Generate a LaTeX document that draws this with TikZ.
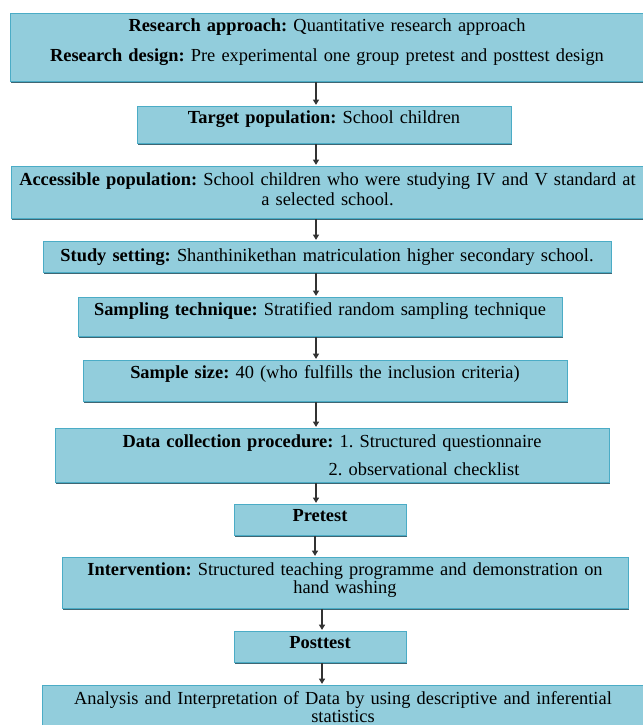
\documentclass[tikz,border=0pt]{standalone}
\usepackage{fontspec}
\setmainfont{Liberation Serif}
\usepackage{tikz}
\usetikzlibrary{arrows.meta, shadows}
\definecolor{boxfill}{HTML}{92CDDC}
\definecolor{boxline}{HTML}{4BACC6}
\definecolor{boxshade}{HTML}{3E6673}
\newcommand{\head}[1]{\textbf{#1}}
\frenchspacing
\tikzstyle{stage} = [rectangle, anchor=north, draw=boxline, line width=0.6pt, fill=boxfill, align=center, inner xsep=0pt, inner ysep=0pt, drop shadow={shadow xshift=0.6pt, shadow yshift=-0.9pt, fill=boxshade, opacity=1}]
\tikzstyle{flow} = [-{Triangle[length=3.6pt, width=4.2pt]}, line width=0.7pt, black!80, shorten >=0.8pt]

\begin{document}
\begin{tikzpicture}[x=0.69pt, y=-0.69pt, font=\fontsize{12.7}{13.8}\selectfont]
    \useasboundingbox (0,0) rectangle (642,725);

    % x-positions of the arrows
    \coordinate (ax) at (316,0);
    \coordinate (bx) at (315,0);
    \coordinate (cx) at (322,0);

    % Design
    \node[stage, text width=437.5pt, text height=12.4pt, text depth=34.5pt] (b1) at (327,13)
        {\head{Research approach:} Quantitative research approach\\[7pt]\head{Research design:} Pre experimental one group pretest and posttest design};

    % Population and setting
    \node[stage, text width=258pt, text height=11.8pt, text depth=13.8pt] (b2) at (324,106)
        {\head{Target population:} School children};
    \node[stage, text width=436.8pt, text height=13.1pt, text depth=22.8pt] (b3) at (327.5,166)
        {\head{Accessible population:} School children who were studying IV and V standard at\\a selected school.};
    \node[stage, text width=392pt, text height=13.6pt, text depth=7.8pt] (b4) at (327,241)
        {\head{Study setting:} Shanthinikethan matriculation higher secondary school.};

    % Sampling
    \node[stage, text width=334pt, text height=12.4pt, text depth=14.5pt] (b5) at (320,297)
        {\head{Sampling technique:} Stratified random sampling technique};
    \node[stage, text width=334pt, text height=12.4pt, text depth=15.9pt] (b6) at (325,360)
        {\head{Sample size:} 40 (who fulfills the inclusion criteria)};

    % Data collection
    \node[stage, text width=382.3pt, text height=13.1pt, text depth=24.1pt] (b7) at (332,428)
        {\head{Data collection procedure:} 1. Structured questionnaire\\[5.5pt]\hspace*{127pt}2. observational checklist};
    \node[stage, text width=118.7pt, text height=12.1pt, text depth=9.3pt] (b8) at (320,504)
        {\head{Pretest}};
    \node[stage, text width=390.5pt, text height=12.4pt, text depth=22.8pt] (b9) at (345,557)
        {\head{Intervention:} Structured teaching programme and demonstration on\\[-1.4pt]hand washing};
    \node[stage, text width=118.7pt, text height=12.1pt, text depth=9.3pt] (b10) at (320,631)
        {\head{Posttest}};

    % Analysis
    \node[stage, text width=414.7pt, text height=13.4pt, text depth=15.6pt] (b11) at (343,685)
        {Analysis and Interpretation of Data by using descriptive and inferential\\[-1.8pt]statistics};

    % Arrows
    \draw[flow] (b1.south -| ax) -- (b2.north -| ax);
    \draw[flow] (b2.south -| ax) -- (b3.north -| ax);
    \draw[flow] (b3.south -| ax) -- (b4.north -| ax);
    \draw[flow] (b4.south -| ax) -- (b5.north -| ax);
    \draw[flow] (b5.south -| ax) -- (b6.north -| ax);
    \draw[flow] (b6.south -| ax) -- (b7.north -| ax);
    \draw[flow] (b7.south -| ax) -- (b8.north -| ax);
    \draw[flow] (b8.south -| bx) -- (b9.north -| bx);
    \draw[flow] (b9.south -| cx) -- (b10.north -| cx);
    \draw[flow] (b10.south -| cx) -- (b11.north -| cx);
\end{tikzpicture}
\end{document}
